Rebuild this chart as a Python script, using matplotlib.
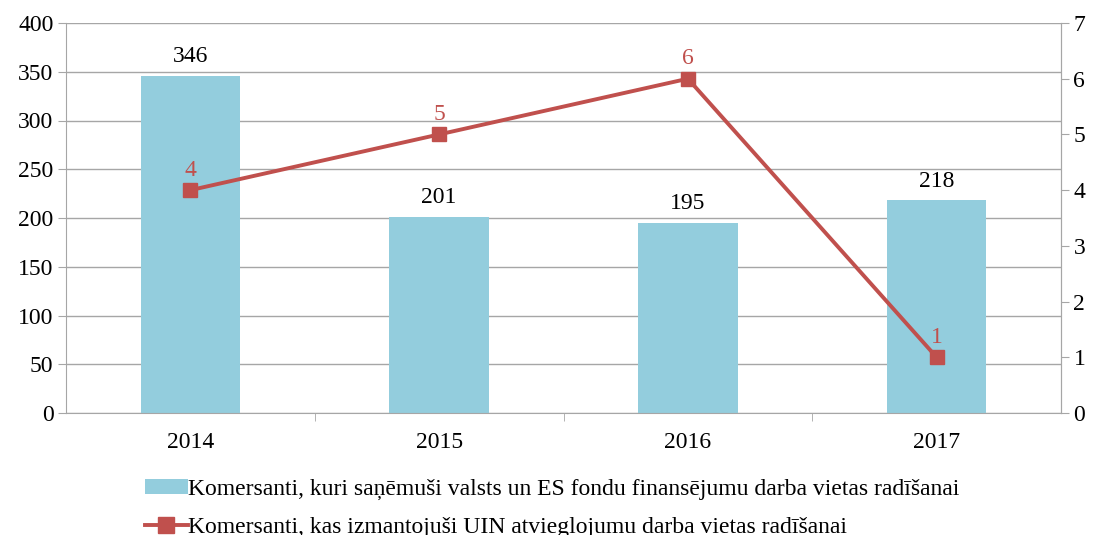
import matplotlib
matplotlib.use("Agg")
import matplotlib.pyplot as plt
from matplotlib.ticker import MultipleLocator, FixedLocator

years = ["2014", "2015", "2016", "2017"]
bar_values = [346, 201, 195, 218]
line_values = [4, 5, 6, 1]
bar_label = "Komersanti, kuri saņēmuši valsts un ES fondu finansējumu darba vietas radīšanai"
line_label = "Komersanti, kas izmantojuši UIN atvieglojumu darba vietas radīšanai"

plt.rcParams['font.family'] = ['Liberation Serif', 'DejaVu Serif']
FS = 17
grey = "#A6A6A6"
bar_color = "#93CDDD"
line_color = "#C0504D"

fig = plt.figure(figsize=(10.97, 5.35), dpi=100)
ax = fig.add_axes([66/1097, 1-413/535, (1061-66)/1097, (413-23)/535])
x = list(range(len(years)))
bars = ax.bar(x, bar_values, width=0.4, color=bar_color, label=bar_label, zorder=2)
ax.set_ylim(0, 400)
ax.set_xlim(-0.5, len(years) - 0.5)
ax.yaxis.set_major_locator(MultipleLocator(50))
ax.grid(axis='y', color=grey, linewidth=1, zorder=0)
ax.set_axisbelow(True)
ax.set_xticks(x)
ax.set_xticklabels(years, fontsize=FS)
ax.tick_params(axis='x', length=0, pad=14)
ax.xaxis.set_minor_locator(FixedLocator([0.5, 1.5, 2.5]))
ax.tick_params(axis='x', which='minor', length=6, color=grey, direction='out')
ax.tick_params(axis='y', labelsize=FS, length=6, color=grey, pad=3)
ax.spines['top'].set_visible(False)
for s in ['left', 'bottom', 'right']:
    ax.spines[s].set_color(grey)

for xi, v in zip(x, bar_values):
    ax.text(xi, v + 9, str(v), ha='center', va='bottom', fontsize=FS, color='black')

ax2 = ax.twinx()
ax2.set_ylim(0, 7)
ax2.yaxis.set_major_locator(MultipleLocator(1))
ln, = ax2.plot(x, line_values, color=line_color, linewidth=2.8, marker='s',
               markersize=10, label=line_label, zorder=3)
ax2.tick_params(axis='y', labelsize=FS, length=6, color=grey, pad=3)
for s in ['top', 'left', 'bottom']:
    ax2.spines[s].set_visible(False)
ax2.spines['right'].set_color(grey)
for xi, v in zip(x, line_values):
    ax2.text(xi, v + 0.17, str(v), ha='center', va='bottom', fontsize=FS, color=line_color)

fig.legend([bars, ln], [bar_label, line_label], loc='upper left',
           bbox_to_anchor=(145/1097, 1-479/535), frameon=False, fontsize=FS,
           handlelength=1.8, handleheight=0.6, handletextpad=0.0,
           labelspacing=0.7, borderaxespad=0, borderpad=0, markerscale=1.2)

fig.savefig("out.png", dpi=100)
